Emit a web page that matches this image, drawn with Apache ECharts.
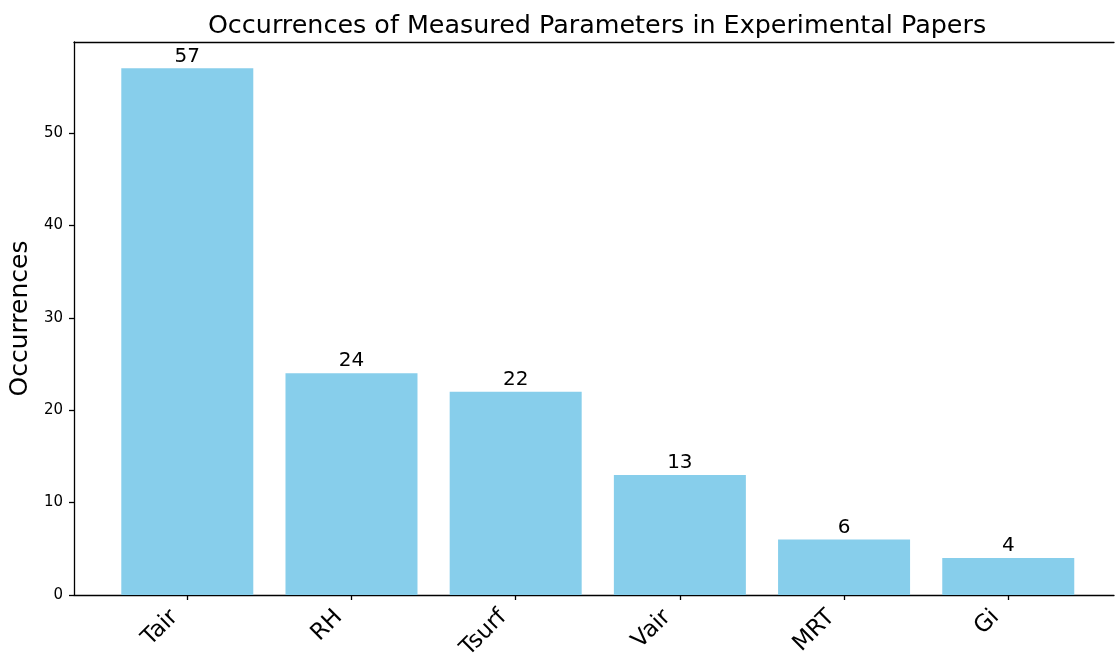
<!DOCTYPE html>
<html>
<head>
<meta charset="utf-8">
<script src="https://cdn.jsdelivr.net/npm/echarts@6/dist/echarts.min.js"></script>
<style>
  html, body { margin: 0; padding: 0; background: #fff; }
  #chart { width: 1115px; height: 659px; }
</style>
</head>
<body>
<div id="chart"></div>
<script>
// parameters and how often they show up
const categories = ['Tair', 'RH', 'Tsurf', 'Vair', 'MRT', 'Gi'];
const counts = [57, 24, 22, 13, 6, 4];
const yTicks = [0, 10, 20, 30, 40, 50];
const xTicks = [0, 1, 2, 3, 4, 5];

const font = 'DejaVu Sans';
const axisLine = { show: true, onZero: false, lineStyle: { color: '#000', width: 1.3 } };
const myChart = echarts.init(document.getElementById('chart'));

myChart.setOption({
  animation: false,
  title: {
    text: 'Occurrences of Measured Parameters in Experimental Papers',
    left: 592,
    textAlign: 'center',
    top: 9,
    textStyle: { fontFamily: font, fontSize: 25.4, fontWeight: 'normal', color: '#000' }
  },
  // the right spine is cut off in the original, so x max stops short of the frame end
  grid: { left: 74, right: 1, top: 42, bottom: 64, containLabel: false, outerBoundsMode: 'none' },
  xAxis: [
    {
      type: 'value',
      min: -0.69,
      max: 5.644,
      splitLine: { show: false },
      axisLine: axisLine,
      axisTick: { show: true, customValues: xTicks, length: 5, lineStyle: { color: '#000', width: 1.3 } },
      axisLabel: {
        customValues: xTicks,
        rotate: 45,
        margin: 6,
        padding: [0, 18, 0, 0],
        fontFamily: font,
        fontSize: 23,
        color: '#000',
        formatter: v => categories[Math.round(v)]
      }
    },
    {
      // top spine only
      type: 'value',
      position: 'top',
      min: -0.69,
      max: 5.644,
      splitLine: { show: false },
      axisLine: axisLine,
      axisTick: { show: false },
      axisLabel: { show: false }
    }
  ],
  yAxis: {
    type: 'value',
    min: 0,
    max: 59.85,
    name: 'Occurrences',
    nameLocation: 'middle',
    nameGap: 39,
    nameTextStyle: { fontFamily: font, fontSize: 25, color: '#000' },
    splitLine: { show: false },
    axisLine: axisLine,
    axisTick: { show: true, customValues: yTicks, length: 5, lineStyle: { color: '#000', width: 1.3 } },
    axisLabel: { customValues: yTicks, margin: 11, fontFamily: font, fontSize: 15, color: '#000' }
  },
  series: [
    {
      type: 'bar',
      data: counts.map((v, i) => [i, v]),
      barWidth: 132,
      itemStyle: { color: '#87CEEB' },
      label: {
        show: true,
        position: 'top',
        distance: 2,
        fontFamily: font,
        fontSize: 20,
        color: '#000',
        formatter: p => p.value[1]
      }
    }
  ]
});
</script>
</body>
</html>
